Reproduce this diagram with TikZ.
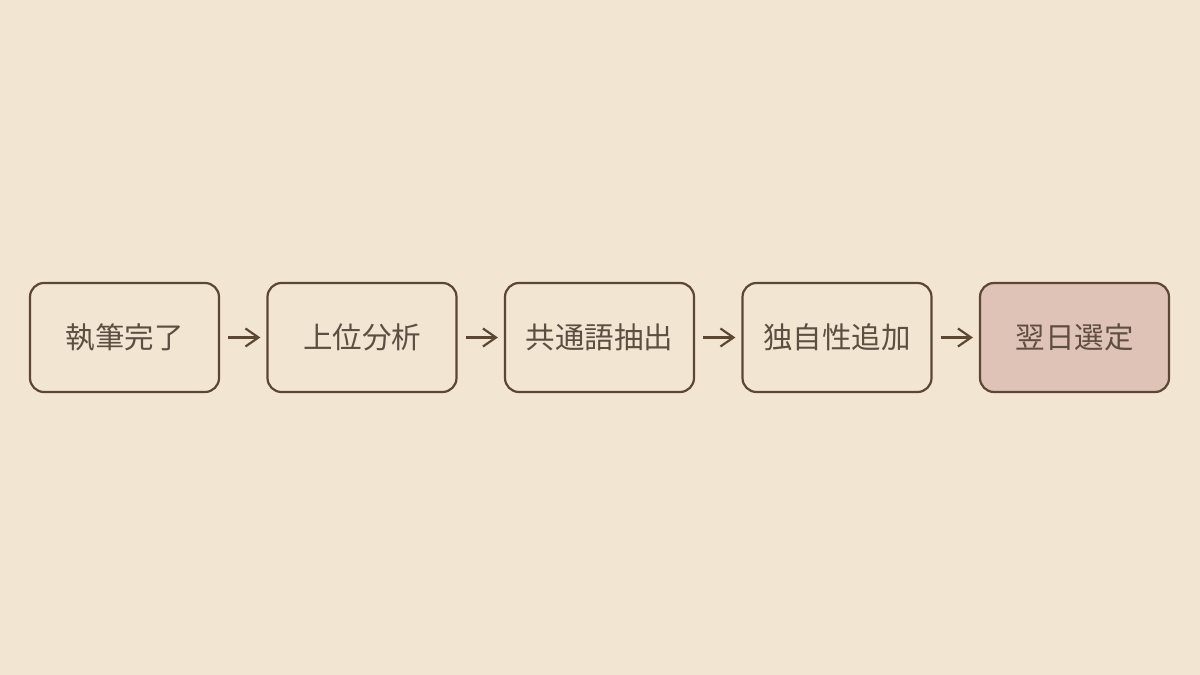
\documentclass[tikz,border=0pt]{standalone}
\usepackage{fontspec}
\newfontfamily\cjk{Noto Sans CJK JP}
\usetikzlibrary{arrows.meta}
\definecolor{bg}{HTML}{F2E6D3}
\definecolor{ink}{HTML}{5E4634}
\definecolor{txt}{HTML}{5E4E42}
\definecolor{hl}{HTML}{DFC3B6}
\begin{document}
\begin{tikzpicture}[x=1pt,y=1pt,
  stepbox/.style={draw=ink,line width=2.2pt,rounded corners=14pt,minimum width=189pt,minimum height=109pt,inner sep=0pt,text=txt,font=\cjk\fontsize{29.5}{33}\selectfont},
  conn/.style={draw=ink,line width=2.2pt,-{Straight Barb[length=13pt,width=18pt,line width=2.2pt]},shorten <=8pt,shorten >=6pt}]
\fill[bg] (0,0) rectangle (1200,675);
\useasboundingbox (0,0) rectangle (1200,675);
\node[stepbox] (a) at (124.5,337.5) {執筆完了};
\node[stepbox] (b) at (362,337.5) {上位分析};
\node[stepbox] (c) at (599.5,337.5) {共通語抽出};
\node[stepbox] (d) at (837,337.5) {独自性追加};
\node[stepbox,fill=hl] (e) at (1074.5,337.5) {翌日選定};
\draw[conn] (a) -- (b);
\draw[conn] (b) -- (c);
\draw[conn] (c) -- (d);
\draw[conn] (d) -- (e);
\end{tikzpicture}
\end{document}
